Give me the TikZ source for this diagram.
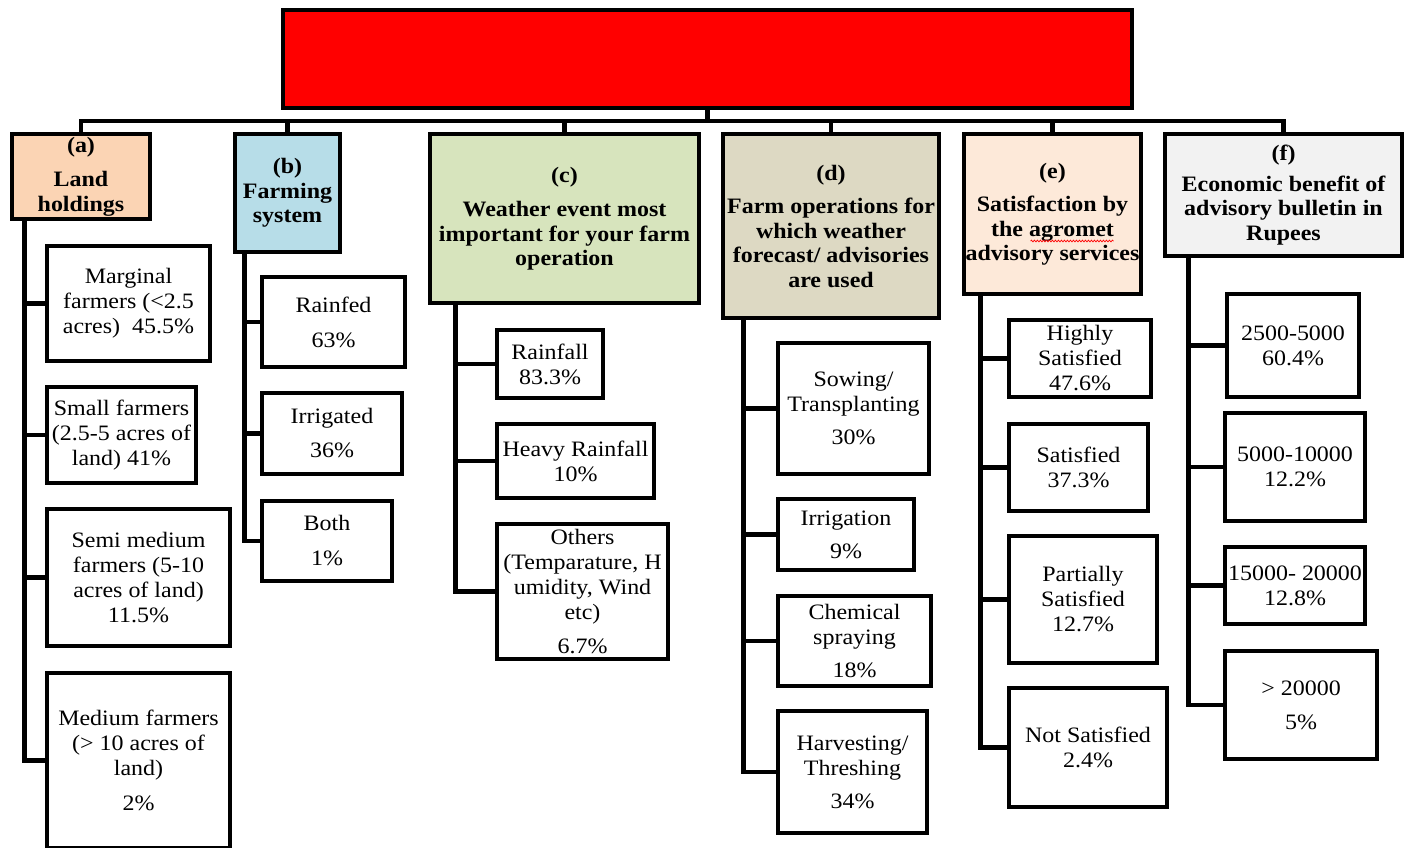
\documentclass[tikz,border=0pt]{standalone}
\usepackage{fontspec}
\setmainfont{Liberation Serif}[FakeStretch=1.09]
\usetikzlibrary{calc,decorations.pathmorphing}
\definecolor{titlered}{HTML}{FF0000}
\definecolor{landcol}{HTML}{FBD4B4}
\definecolor{farmcol}{HTML}{B7DDE8}
\definecolor{weathercol}{HTML}{D7E4BD}
\definecolor{opercol}{HTML}{DDD9C3}
\definecolor{satcol}{HTML}{FDE9D9}
\definecolor{econcol}{HTML}{F2F2F2}

\begin{document}
\begin{tikzpicture}[x=1pt, y=-1pt,
	box/.style={draw, line width=4.8pt, align=center, inner sep=1pt, fill=white},
	sz/.style 2 args={minimum width={#1pt-4pt}, minimum height={#2pt-4pt}},
	head/.style={box, font=\fontsize{22}{24.5}\selectfont\bfseries},
	leaf/.style={box, font=\fontsize{22}{25}\selectfont},
	link/.style={line width=4.8pt},
	spellmark/.style={red, line width=0.7pt, decorate, decoration={snake, amplitude=0.9pt, segment length=3pt}}]
	\useasboundingbox (0,0) rectangle (1411,847);

	\node[box, fill=titlered, sz={853}{102}] (title) at (707.5,59) {};

	\node[head, fill=landcol, sz={142}{89}] (a) at (81,176.5) {(a)\\[10pt]Land\\holdings};
	\node[head, fill=farmcol, sz={109}{122}] (b) at (287.5,193) {(b)\\Farming\\system};
	\node[head, fill=weathercol, sz={273}{173}] (c) at (564.5,218.5) {(c)\\[10pt]Weather event most\\important for your farm\\operation};
	\node[head, fill=opercol, sz={220}{188}] (d) at (831,226) {(d)\\[9pt]Farm operations for\\which weather\\forecast/ advisories\\are used};
	\node[head, fill=satcol, sz={181}{164}] (e) at (1052.5,214) {(e)\\[9pt]Satisfaction by\\the agromet\\advisory services};
	\node[head, fill=econcol, sz={241}{126}] (f) at (1283.5,195) {(f)\\[6pt]Economic benefit of\\advisory bulletin in\\Rupees};
	\draw[spellmark] ($(e.center)+(-22,27)$) -- ($(e.center)+(61,27)$);

	\node[leaf, sz={167}{119}] (a1) at (128.5,303.5) {Marginal\\farmers (<2.5\\acres)~ 45.5\%};
	\node[leaf, sz={153}{100}] (a2) at (121.5,435) {Small farmers\\(2.5-5 acres of\\land) 41\%};
	\node[leaf, sz={187}{141}] (a3) at (138.5,577.5) {Semi medium\\farmers (5-10\\acres of land)\\11.5\%};
	\node[leaf, sz={187}{179}] (a4) at (138.5,760.5) {Medium farmers\\(> 10 acres of\\land)\\[10pt]2\%};

	\node[leaf, sz={147}{94}] (b1) at (333.5,322) {Rainfed\\[10pt]63\%};
	\node[leaf, sz={144}{85}] (b2) at (332,433.5) {Irrigated\\[9pt]36\%};
	\node[leaf, sz={134}{84}] (b3) at (327,541) {Both\\[10pt]1\%};

	\node[leaf, sz={110}{72}] (c1) at (550,364) {Rainfall\\83.3\%};
	\node[leaf, sz={161}{78}] (c2) at (575.5,461) {Heavy Rainfall\\10\%};
	\node[leaf, sz={175}{139}] (c3) at (582.5,591.5) {Others\\(Temparature, H\\umidity, Wind\\etc)\\[9pt]6.7\%};

	\node[leaf, sz={155}{135}] (d1) at (853.5,408.5) {Sowing/\\Transplanting\\[8pt]30\%};
	\node[leaf, sz={140}{75}] (d2) at (846,534.5) {Irrigation\\[8pt]9\%};
	\node[leaf, sz={157}{94}] (d3) at (854.5,641) {Chemical\\spraying\\[8pt]18\%};
	\node[leaf, sz={153}{126}] (d4) at (852.5,772) {Harvesting/\\Threshing\\[8pt]34\%};

	\node[leaf, sz={146}{81}] (e1) at (1080,358.5) {Highly\\Satisfied\\47.6\%};
	\node[leaf, sz={143}{91}] (e2) at (1078.5,467.5) {Satisfied\\37.3\%};
	\node[leaf, sz={152}{131}] (e3) at (1083,599.5) {Partially\\Satisfied\\12.7\%};
	\node[leaf, sz={162}{123}] (e4) at (1088,747.5) {Not Satisfied\\2.4\%};

	\node[leaf, sz={136}{107}] (f1) at (1293,345.5) {2500-5000\\60.4\%};
	\node[leaf, sz={144}{112}] (f2) at (1295,467) {5000-10000\\12.2\%};
	\node[leaf, sz={144}{81}] (f3) at (1295,585.5) {15000- 20000\\12.8\%};
	\node[leaf, sz={156}{112}] (f4) at (1301,705) {> 20000\\[9pt]5\%};

	\coordinate (bus) at (0,121);
	\foreach \h in {a,b,c,d,e,f}
		\draw[link] (title.south) -- (title.south |- bus) -| (\h.north);
	\foreach \h/\dx/\n in {a/15/4, b/12/3, c/28/3, d/23/4, e/19/4, f/26/4}
		\foreach \i in {1,...,\n}
			\draw[link] ($(\h.south west)+(\dx,0)$) |- (\h\i.west);
\end{tikzpicture}
\end{document}
